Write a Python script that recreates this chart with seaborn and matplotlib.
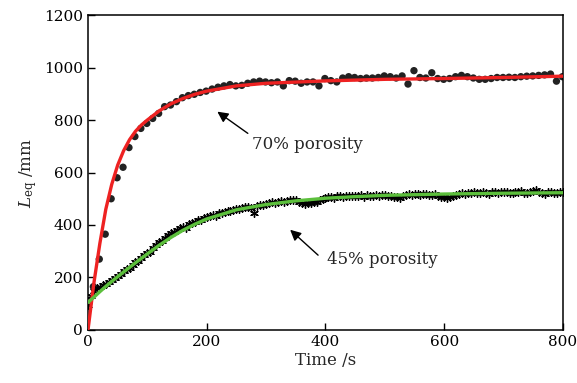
import numpy as np
import pandas as pd
import matplotlib
matplotlib.use('Agg')
import matplotlib.pyplot as plt
import seaborn as sns

# measured points, 70% porosity (one dot every 10 s)
t_70 = list(range(9, 800, 10))
L_70 = [165, 270, 365, 500, 580, 620, 695, 737, 768, 787,
        806, 825, 851, 857, 870, 885, 893, 898, 905, 910,
        918, 925, 930, 935, 930, 932, 940, 945, 948, 945,
        942, 945, 930, 950, 948, 940, 945, 945, 930, 958,
        950, 945, 960, 965, 962, 958, 960, 960, 962, 968,
        965, 960, 968, 937, 988, 962, 960, 980, 958, 955,
        958, 965, 970, 965, 960, 955, 955, 958, 962, 962,
        963, 962, 965, 967, 968, 970, 972, 975, 948, 965]

# measured points, 45% porosity (one star every 5 s)
t_45 = list(range(0, 801, 5))
L_45 = [95, 130, 150, 160, 165, 170, 175, 182, 192, 198,
        205, 212, 224, 232, 236, 248, 258, 262, 275, 285,
        292, 298, 312, 322, 335, 338, 350, 362, 368, 372,
        380, 388, 392, 390, 402, 408, 412, 418, 420, 426,
        430, 435, 438, 436, 445, 447, 449, 452, 455, 458,
        460, 462, 465, 468, 470, 466, 445, 473, 476, 478,
        480, 484, 486, 483, 489, 490, 487, 492, 495, 494,
        496, 488, 482, 480, 484, 483, 486, 488, 497, 500,
        504, 507, 508, 503, 510, 509, 505, 511, 509, 512,
        512, 510, 513, 508, 514, 512, 510, 515, 511, 514,
        515, 512, 510, 505, 507, 504, 510, 515, 517, 514,
        517, 519, 515, 518, 520, 516, 514, 518, 510, 505,
        506, 503, 507, 510, 515, 520, 522, 519, 521, 523,
        524, 522, 521, 525, 523, 520, 524, 526, 522, 524,
        525, 527, 523, 521, 526, 524, 528, 522, 523, 526,
        528, 532, 525, 522, 520, 524, 526, 522, 523, 525, 524]

# fitted curves
t_fit70 = [0, 10, 20, 30, 40, 50, 60, 70, 80, 90, 100, 120, 140, 160, 180, 200,
           250, 300, 400, 500, 600, 700, 800]
L_fit70 = [0, 180, 330, 460, 555, 628, 683, 725, 757, 781, 800, 835, 862, 882, 898, 910,
           930, 940, 949, 955, 958, 962, 967]

t_fit45 = [0, 10, 20, 30, 40, 50, 60, 80, 100, 120, 140, 160, 180, 200,
           250, 300, 350, 400, 450, 500, 600, 700, 800]
L_fit45 = [105, 125, 146, 166, 185, 203, 221, 256, 290, 323, 353, 380, 403, 423,
           458, 478, 492, 502, 508, 513, 518, 521, 523]

sns.set_style('ticks')
plt.rcParams['font.family'] = ['DejaVu Serif']
plt.rcParams['mathtext.fontset'] = 'dejavuserif'
plt.rcParams['font.size'] = 12

fig = plt.figure(figsize=(5.77, 3.83), dpi=100)
ax = fig.add_axes([0.1525, 0.1384, 0.8232, 0.8224])

sns.scatterplot(x=t_70, y=L_70, ax=ax, color='#222222', s=28, edgecolor='none', zorder=2)
sns.scatterplot(x=t_45, y=L_45, ax=ax, color='black', marker=(6, 2, 0), s=30,
                linewidth=1.0, zorder=2)
sns.lineplot(x=t_fit70, y=L_fit70, ax=ax, color='#ee2222', lw=2.4, zorder=3)
sns.lineplot(x=t_fit45, y=L_fit45, ax=ax, color='#5cbf3c', lw=2.4, zorder=3)

ax.set_xlim(0, 800)
ax.set_ylim(0, 1200)
ax.set_xticks([0, 200, 400, 600, 800])
ax.set_yticks([0, 200, 400, 600, 800, 1000, 1200])
ax.tick_params(direction='in', length=5, width=1, colors='black', labelsize=11)
for sp in ax.spines.values():
    sp.set_visible(True)
    sp.set_linewidth(1.1)
    sp.set_color('black')

ax.set_xlabel('Time /s', fontsize=12, labelpad=2)
ax.set_ylabel(r'$L_{\rm eq}$ /mm', fontsize=12, labelpad=4)

arrow = dict(arrowstyle='-|>', color='black', lw=1, mutation_scale=16)
ax.annotate('', xy=(214, 838), xytext=(273, 743), arrowprops=arrow)
ax.text(276, 705, '70% porosity', fontsize=12, va='center', ha='left')
ax.annotate('', xy=(337, 389), xytext=(391, 278), arrowprops=arrow)
ax.text(402, 270, '45% porosity', fontsize=12, va='center', ha='left')

plt.savefig('out.png', dpi=100)
